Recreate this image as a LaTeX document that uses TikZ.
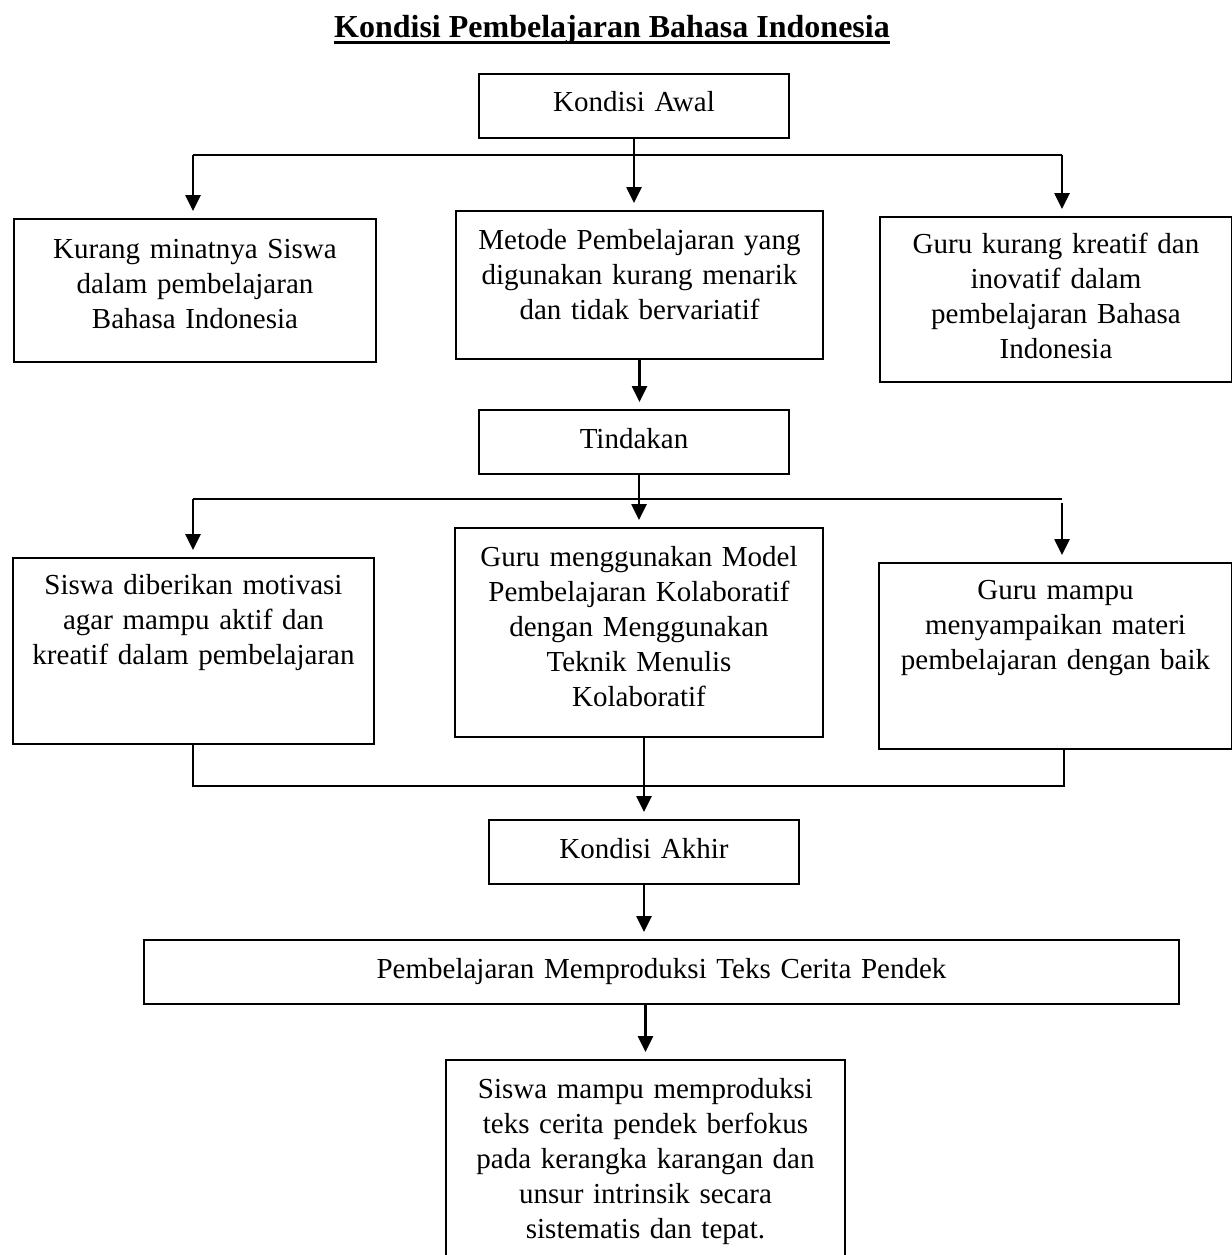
\documentclass[tikz,border=0pt]{standalone}
\usepackage{fontspec}
\setmainfont{Liberation Serif}
\usetikzlibrary{arrows.meta}

\begin{document}
\begin{tikzpicture}[x=0.5pt,y=0.5pt,yscale=-1,xscale=1,
  box/.style={draw,line width=1pt,anchor=north west,inner sep=0pt,align=center,font=\fontsize{14.5pt}{17.5pt}\selectfont},
  lin/.style={line width=1pt},
  arr/.style={line width=1.3pt,-{Triangle[width=7.5pt,length=8pt]},shorten >=3.5pt}]
\useasboundingbox (0,0) rectangle (1232,1255);

% Title
\draw (612,37) node (judul) [anchor=base,inner sep=0pt,text depth=2.6pt,font=\fontsize{16pt}{18pt}\selectfont\bfseries] {Kondisi Pembelajaran Bahasa Indonesia};
\draw [line width=1.4pt] (judul.south west) -- (judul.south east);

% Text Node
\draw (478,73) node (awal) [box,text width=155pt,text height=18.5pt,text depth=13.5pt] {Kondisi Awal};
% Text Node
\draw (13,218) node (kurang) [box,text width=181pt,text height=19.5pt,text depth=52pt] {Kurang minatnya Siswa\\dalam pembelajaran\\Bahasa Indonesia};
% Text Node
\draw (455,210) node (metode) [box,text width=183.5pt,text height=19pt,text depth=55pt] {Metode Pembelajaran yang\\digunakan kurang menarik\\dan tidak bervariatif};
% Text Node
\draw (879,216) node (gurukr) [box,text width=176pt,text height=18pt,text depth=64.5pt] {Guru kurang kreatif dan\\inovatif dalam\\pembelajaran Bahasa\\Indonesia};
% Text Node
\draw (478,409) node (tindakan) [box,text width=155pt,text height=19pt,text depth=13pt] {Tindakan};
% Text Node
\draw (12,557) node (motivasi) [box,text width=180.5pt,text height=18pt,text depth=75pt] {Siswa diberikan motivasi\\agar mampu aktif dan\\kreatif dalam pembelajaran};
% Text Node
\draw (454,527) node (model) [box,text width=184pt,text height=19pt,text depth=85.5pt] {Guru menggunakan Model\\Pembelajaran Kolaboratif\\dengan Menggunakan\\Teknik Menulis\\Kolaboratif};
% Text Node
\draw (878,562) node (mampu) [box,text width=176.5pt,text height=18pt,text depth=75pt] {Guru mampu\\menyampaikan materi\\pembelajaran dengan baik};
% Text Node
\draw (488,819) node (akhir) [box,text width=155pt,text height=19pt,text depth=13pt] {Kondisi Akhir};
% Text Node
\draw (143,939) node (produksi) [box,text width=517.5pt,text height=19pt,text depth=13pt] {Pembelajaran Memproduksi Teks Cerita Pendek};
% Text Node
\draw (445,1059) node (hasil) [box,text width=199.5pt,text height=19pt,text depth=110pt] {Siswa mampu memproduksi\\teks cerita pendek berfokus\\pada kerangka karangan dan\\unsur intrinsik secara\\sistematis dan tepat.};

% Branch from Kondisi Awal
\coordinate (s1L) at (193,155);
\coordinate (s1R) at (1062,155);
\draw [lin] (s1L) -- (s1R);
\draw [arr] (s1L) -- (s1L |- kurang.north);
\draw [arr] (awal.south) -- (awal.south |- metode.north);
\draw [arr] (s1R) -- (s1R |- gurukr.north);
\draw [arr] (metode.south) -- (metode.south |- tindakan.north);

% Branch from Tindakan
\coordinate (s2L) at (193,499);
\coordinate (s2R) at (1062,499);
\draw [lin] (s2L) -- (s2R);
\draw [arr] (s2L) -- (s2L |- motivasi.north);
\draw [arr] (model.north |- tindakan.south) -- (model.north);
\draw [arr,shorten <=2pt] (s2R) -- (s2R |- mampu.north);

% Join to Kondisi Akhir
\coordinate (j1) at (193,786);
\coordinate (j2) at (1064,786);
\draw [lin] (motivasi.south -| j1) -- (j1) -- (j2) -- (mampu.south -| j2);
\draw [arr] (akhir.north |- model.south) -- (akhir.north);
\draw [arr] (akhir.south) -- (akhir.south |- produksi.north);
\draw [arr] (hasil.north |- produksi.south) -- (hasil.north);

\end{tikzpicture}
\end{document}
